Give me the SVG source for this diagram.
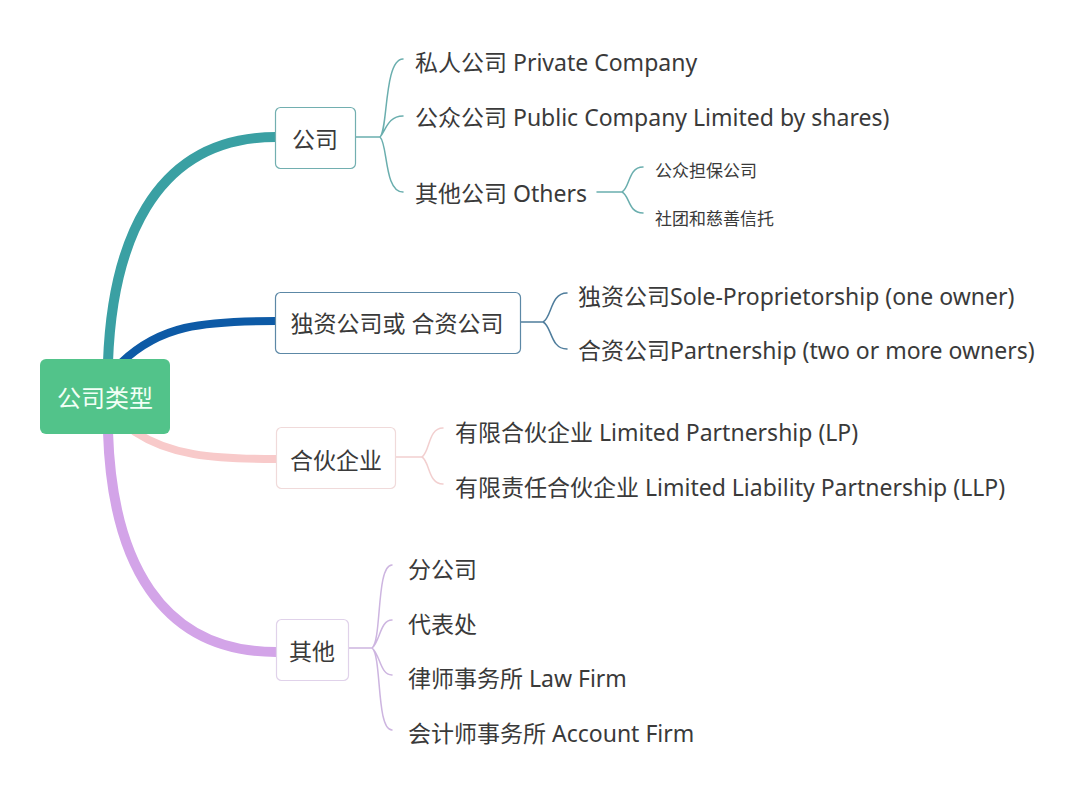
<svg xmlns="http://www.w3.org/2000/svg" width="1080" height="792" viewBox="0 0 1080 792">
<style>
text{font-family:"Noto Sans","Noto Sans CJK SC",sans-serif;fill:#3a3a3a;dominant-baseline:central}
.t{font-size:23px}
.s{font-size:17px}
.n{font-size:23px;text-anchor:middle}
.box{fill:#fff;stroke-width:1.2}
.sub{fill:none;stroke-width:1.5}
</style>
<rect width="1080" height="792" fill="#fff"/>
<g id="connectors" fill="none" stroke-linecap="round">
<path d="M108,362 C112,250 150,137 276,137" stroke="#3AA0A3" stroke-width="10"/>
<path d="M122,362 C160,326 200,321 276,321" stroke="#0D5AA6" stroke-width="8"/>
<path d="M135,432 C170,455 210,459 276,459" stroke="#F8CACA" stroke-width="8"/>
<path d="M108,432 C112,560 160,652 276,652" stroke="#D3A4E8" stroke-width="10"/>
<g class="sub" stroke="#6AAEAE">
<path d="M355,137 H380 M380,137 C388,130 384,59 403,59 M380,137 C386,130 388,116 403,116 M380,137 C388,144 384,192 403,192"/>
<path d="M597,192 H622 M622,192 C630,188 628,167 643,167 M622,192 C630,196 628,213 643,213"/>
</g>
<g class="sub" stroke="#4F7D9C">
<path d="M520,322 H543 M543,322 C552,318 550,293 567,293 M543,322 C552,326 550,349 567,349"/>
</g>
<g class="sub" stroke="#F2CFCF">
<path d="M396,457 H422 M422,457 C430,452 428,428 443,428 M422,457 C430,462 428,484 443,484"/>
</g>
<g class="sub" stroke="#CDB5E0">
<path d="M349,648 H372 M372,648 C382,640 376,565 392,565 M372,648 C380,642 380,620 392,620 M372,648 C380,654 380,675 392,675 M372,648 C382,656 376,730 392,730"/>
</g>
</g>
<g id="root">
<rect x="40" y="359" width="130" height="75" rx="6" fill="#52C38A"/>
<text x="105" y="397" style="font-size:24px;fill:#f2fff6;text-anchor:middle">公司类型</text>
</g>
<g id="node-company">
<rect class="box" x="275.5" y="107.5" width="80" height="61" rx="5" stroke="#72AFB0"/>
<text class="n" x="315" y="139">公司</text>
</g>
<g id="node-sole">
<rect class="box" x="275.5" y="292.5" width="245" height="61" rx="5" stroke="#5C88A6"/>
<text class="n" x="397" y="323">独资公司或 合资公司</text>
</g>
<g id="node-partner">
<rect class="box" x="276.5" y="427.5" width="119" height="61" rx="5" stroke="#F0DADA"/>
<text class="n" x="336" y="460">合伙企业</text>
</g>
<g id="node-other">
<rect class="box" x="276.5" y="619.5" width="72" height="61" rx="5" stroke="#E0D2EA"/>
<text class="n" x="312" y="651">其他</text>
</g>
<g id="company-children">
<text class="t" x="415" y="62">私人公司 Private Company</text>
<text class="t" x="415" y="117">公众公司 Public Company Limited by shares)</text>
<text class="t" x="415" y="193">其他公司 Others</text>
<text class="s" x="655" y="170">公众担保公司</text>
<text class="s" x="655" y="218">社团和慈善信托</text>
</g>
<g id="sole-children">
<text class="t" x="578" y="296">独资公司Sole-Proprietorship (one owner)</text>
<text class="t" x="578" y="350">合资公司Partnership (two or more owners)</text>
</g>
<g id="partner-children">
<text class="t" x="455" y="432">有限合伙企业 Limited Partnership (LP)</text>
<text class="t" x="455" y="487">有限责任合伙企业 Limited Liability Partnership (LLP)</text>
</g>
<g id="other-children">
<text class="t" x="408" y="569">分公司</text>
<text class="t" x="408" y="624">代表处</text>
<text class="t" x="408" y="678">律师事务所 Law Firm</text>
<text class="t" x="408" y="733">会计师事务所 Account Firm</text>
</g>
</svg>
